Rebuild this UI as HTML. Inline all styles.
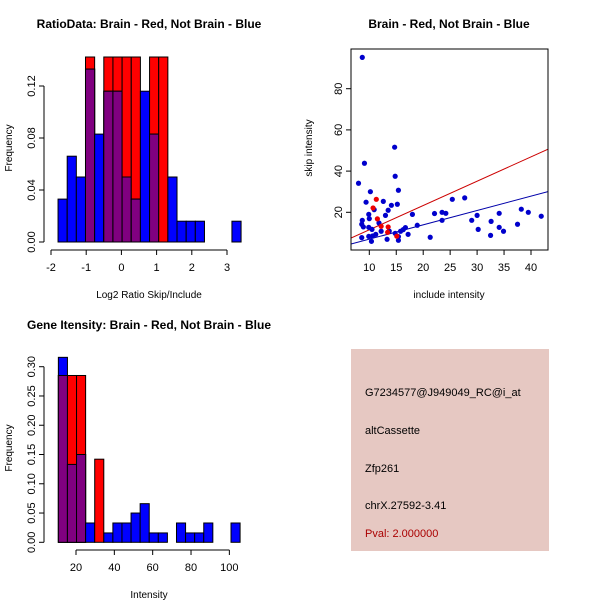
<!DOCTYPE html>
<html><head><meta charset="utf-8"><style>
body{margin:0;background:#fff}
svg{display:block;font-family:"Liberation Sans",sans-serif}
</style></head><body>
<svg id="c" width="600" height="600" viewBox="0 0 600 600">
<rect width="600" height="600" fill="#fff"/>
</svg>
<script>
// Top-left histogram data
const ratioBinStart = -1.8, ratioBinWidth = 0.26;
const ratioBlue = [0.033,0.066,0.05,0.133,0.083,0.116,0.116,0.05,0.033,0.116,0.083,0,0.05,0.016,0.016,0.016,0,0,0,0.016];
const ratioRed  = [0,0,0,0.143,0,0.143,0.143,0.143,0.143,0,0.143,0.143,0,0,0,0,0,0,0,0];
const ratioXTicks = [-2,-1,0,1,2,3];
const ratioYTicks = [0,0.04,0.08,0.12];
const ratioYLabels = ["0.00","0.04","0.08","0.12"];
// Bottom-left histogram data
const intBinStart = 10.8, intBinWidth = 4.74;
const intBlue = [0.316,0.133,0.15,0.033,0,0.016,0.033,0.033,0.05,0.066,0.016,0.016,0,0.033,0.016,0.016,0.033,0,0,0.033];
const intRed  = [0.285,0.285,0.285,0,0.142,0,0,0,0,0,0,0,0,0,0,0,0,0,0,0];
const intXTicks = [20,40,60,80,100];
const intYTicks = [0,0.05,0.1,0.15,0.2,0.25,0.3];
const intYLabels = ["0.00","0.05","0.10","0.15","0.20","0.25","0.30"];
// Scatter data
const blueX = [8.7,9.1,8.0,14.7,14.8,15.4,10.2,9.4,12.6,15.2,14.1,10.9,13.5,9.9,13.0,10.0,8.7,8.6,11.8,8.9,9.9,10.5,12.2,13.7,11.2,10.6,9.9,8.6,10.4,13.3,14.8,15.4,15.4,15.8,16.3,16.7,17.2,18.0,18.9,21.3,22.1,23.5,23.5,24.2,25.4,27.7,29.0,30.0,30.2,32.5,32.6,34.1,34.1,34.9,37.5,38.2,39.5,41.9];
const blueY = [95.2,43.8,34.1,51.6,37.5,30.7,30.0,24.9,25.3,23.9,23.4,21.3,21.0,19.0,18.5,16.9,16.1,14.2,14.8,12.9,12.7,11.7,10.8,10.9,9.3,8.5,8.3,7.7,5.9,6.9,9.8,8.2,6.4,10.8,11.6,12.6,9.3,19.0,13.7,7.9,19.4,20.0,16.1,19.5,26.3,27.0,16.1,18.5,11.7,8.8,15.6,19.5,12.7,10.8,14.2,21.5,20.0,18.1];
const redX = [11.3,11.5,12.2,13.5,10.7,13.4,15.1];
const redY = [26.3,16.8,13.2,12.9,22.1,10.3,8.4];
const redLine = [-0.3,1.18];   // intercept, slope
const blueLine = [0.0,0.696];
const scXTicks = [10,15,20,25,30,35,40];
const scYTicks = [20,40,60,80];

const svg = document.getElementById('c');
const NS = 'http://www.w3.org/2000/svg';
function mk(tag, attrs, parent){const e=document.createElementNS(NS,tag);for(const k in attrs)e.setAttribute(k,attrs[k]);(parent||svg).appendChild(e);return e;}
function txt(s,x,y,attrs,parent){const t=mk('text',Object.assign({x:x,y:y,'font-size':11,fill:'#000'},attrs||{}),parent);t.textContent=s;return t;}

function hist(opts){
  const g=mk('g',{});
  
  
  const xs=v=>opts.x0px+(v-opts.x0)*opts.xk, ys=v=>opts.y0px-v*opts.yk;
  const top=opts.clipTop;
  const n=opts.blue.length;
  for(let i=0;i<n;i++){
    const a=opts.bs+i*opts.bw, b=a+opts.bw;
    const r=opts.red[i], bl=opts.blue[i], m=Math.min(r,bl);
    const draw=(v,col,nm)=>{ if(v<=0)return; const yt=Math.max(ys(v),top);
      const e=mk('rect',{x:xs(a),y:yt,width:xs(b)-xs(a),height:opts.y0px-yt,fill:col,stroke:'#000','stroke-width':1},g);
      
      };
    draw(r,'#ff0000','red-bar');
    draw(bl,'#0000ff','blue-bar');
    draw(m,'#800080','overlap-bar');
  }
  const xa=mk('g',{});
  
  
  const xt=opts.xt;
  mk('line',{x1:xs(xt[0]),x2:xs(xt[xt.length-1]),y1:opts.xAxisY,y2:opts.xAxisY,stroke:'#000'},xa);
  xt.forEach(v=>{mk('line',{x1:xs(v),x2:xs(v),y1:opts.xAxisY,y2:opts.xAxisY+5,stroke:'#000'},xa);
    txt(String(v),xs(v),opts.xAxisY+21,{'text-anchor':'middle'},xa);});
  const ya=mk('g',{});
  
  
  const yt=opts.yt;
  mk('line',{x1:opts.yAxisX,x2:opts.yAxisX,y1:ys(yt[0]),y2:ys(yt[yt.length-1]),stroke:'#000'},ya);
  yt.forEach((v,i)=>{mk('line',{x1:opts.yAxisX-5,x2:opts.yAxisX,y1:ys(v),y2:ys(v),stroke:'#000'},ya);
    txt(opts.yl[i],opts.yAxisX-9,ys(v),{'text-anchor':'middle',transform:`rotate(-90 ${opts.yAxisX-9} ${ys(v)})`},ya);});
}

hist({name:'ratio-histogram',bs:ratioBinStart,bw:ratioBinWidth,blue:ratioBlue,red:ratioRed,
  x0:-2,x0px:51,xk:35.2,y0px:242,yk:1300,clipTop:57,xt:ratioXTicks,yt:ratioYTicks,yl:ratioYLabels,xAxisY:250,yAxisX:44});
hist({name:'intensity-histogram',bs:intBinStart,bw:intBinWidth,blue:intBlue,red:intRed,
  x0:20,x0px:76,xk:1.917,y0px:542.3,yk:585.3,clipTop:0,xt:intXTicks,yt:intYTicks,yl:intYLabels,xAxisY:550,yAxisX:44});

txt('RatioData: Brain - Red, Not Brain - Blue',149,28,{'text-anchor':'middle','font-weight':'bold','font-size':12});
txt('Log2 Ratio Skip/Include',149,298,{'text-anchor':'middle','font-size':10});
txt('Frequency',12,148,{'text-anchor':'middle','font-size':10,transform:'rotate(-90 12 148)'});
txt('Gene Itensity: Brain - Red, Not Brain - Blue',149,329,{'text-anchor':'middle','font-weight':'bold','font-size':12});
txt('Intensity',149,598,{'text-anchor':'middle','font-size':10});
txt('Frequency',12,448,{'text-anchor':'middle','font-size':10,transform:'rotate(-90 12 448)'});

const sg=mk('g',{});


const sx=v=>369.3+(v-10)*5.39, sy=v=>212.3-(v-20)*2.06;
const L=351,R=548,T=49,B=250;
const cp=mk('clipPath',{id:'sclip'},sg); mk('rect',{x:L,y:T,width:R-L,height:B-T},cp);
const pts=mk('g',{'clip-path':'url(#sclip)'},sg);
const xl=(L-369.3)/5.39+10, xr=(R-369.3)/5.39+10;
[[redLine,'#cc0000','red-fit-line'],[blueLine,'#0000aa','blue-fit-line']].forEach(([c,col,nm])=>{
  const l=mk('line',{x1:sx(xl),y1:sy(c[0]+c[1]*xl),x2:sx(xr),y2:sy(c[0]+c[1]*xr),stroke:col,'stroke-width':1},pts);
  
  
});
blueX.forEach((v,i)=>{const p=mk('circle',{cx:sx(v),cy:sy(blueY[i]),r:2.6,fill:'#0000cc'},pts);
  
  });
redX.forEach((v,i)=>{const p=mk('circle',{cx:sx(v),cy:sy(redY[i]),r:2.6,fill:'#ee0000'},pts);
  
  });
mk('rect',{x:L,y:T,width:R-L,height:B-T,fill:'none',stroke:'#000'},sg);
scXTicks.forEach(v=>{mk('line',{x1:sx(v),x2:sx(v),y1:B,y2:B+5,stroke:'#000'},sg);txt(String(v),sx(v),B+21,{'text-anchor':'middle'},sg);});
scYTicks.forEach(v=>{mk('line',{x1:L-5,x2:L,y1:sy(v),y2:sy(v),stroke:'#000'},sg);txt(String(v),L-9,sy(v),{'text-anchor':'middle',transform:`rotate(-90 ${L-9} ${sy(v)})`},sg);});
txt('Brain - Red, Not Brain - Blue',449,28,{'text-anchor':'middle','font-weight':'bold','font-size':12});
txt('include intensity',449,298,{'text-anchor':'middle','font-size':10});
txt('skip intensity',312,148,{'text-anchor':'middle','font-size':10,transform:'rotate(-90 312 148)'});

const ip=mk('g',{});


mk('rect',{x:351,y:349,width:198,height:202,fill:'#e6c8c2'},ip);
[['G7234577@J949049_RC@i_at',396,'#000','probe-id'],['altCassette',434,'#000','event-type'],['Zfp261',472,'#000','gene-name'],['chrX.27592-3.41',509,'#000','location'],['Pval: 2.000000',537,'#aa0000','pval']].forEach(([s,y,c,n])=>{
  const t=txt(s,365,y,{fill:c,'font-size':11},ip);
  
  
});
</script>
</body></html>
